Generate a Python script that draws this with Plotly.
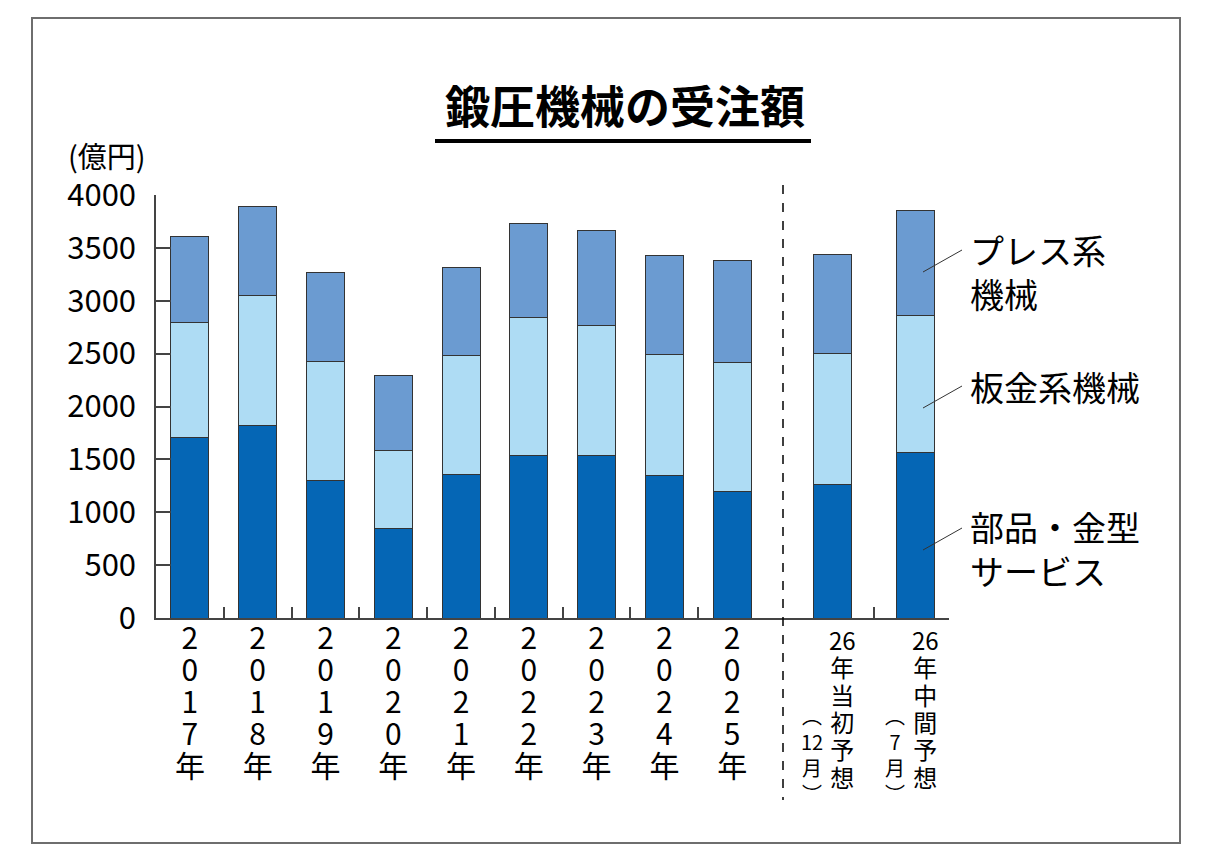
import plotly.graph_objects as go

title = "鍛圧機械の受注額"
unit = "(億円)"

years = ["2017年", "2018年", "2019年", "2020年", "2021年",
         "2022年", "2023年", "2024年", "2025年"]
forecasts = ["26年当初予想", "26年中間予想"]
forecast_months = ["12月", "7月"]

series_names = ["部品・金型<br>サービス", "板金系機械", "プレス系<br>機械"]
colors = ["#0566b5", "#aedcf4", "#6b9bd1"]

# 部品・金型サービス / 板金系機械 / プレス系機械 (億円)
parts_hist = [1710, 1817, 1300, 846, 1357, 1537, 1537, 1348, 1196]
sheet_hist = [1085, 1230, 1126, 738, 1126, 1306, 1230, 1145, 1221]
press_hist = [817, 849, 843, 706, 833, 885, 895, 933, 965]
parts_fc = [1262, 1561]
sheet_fc = [1236, 1297]
press_fc = [937, 991]

FONT = "Noto Sans CJK JP"
OFF = 8  # body margin of the html page
W, H = 1209 - 2 * OFF, 868 - 2 * OFF
# plot area in page pixels
X0, X1, Y0, Y1 = 156, 949, 195, 618
PW, PH = X1 - X0, Y1 - Y0


def px(x):
    return (x - X0) / PW


def py(y):
    return (Y1 - y) / PH


split = px(783)


def vlabel(text, size, join_digits):
    # one character per line (optionally keeping digit runs together)
    parts, buf = [], ""
    for c in text:
        if c.isdigit() and join_digits:
            buf += c
        else:
            if buf:
                parts.append(buf)
                buf = ""
            parts.append(c)
    if buf:
        parts.append(buf)
    return "<br>".join(f'<span style="font-size:{size}px">{p}</span>' for p in parts)


fig = go.Figure()
hist = [parts_hist, sheet_hist, press_hist]
fc = [parts_fc, sheet_fc, press_fc]
for name, col, vh, vf in zip(series_names, colors, hist, fc):
    fig.add_trace(go.Bar(x=years, y=vh, name=name, marker_color=col,
                         marker_line=dict(color="#333", width=1),
                         width=0.56, xaxis="x", yaxis="y"))
    fig.add_trace(go.Bar(x=forecasts, y=vf, name=name, marker_color=col,
                         marker_line=dict(color="#333", width=1),
                         width=0.46, xaxis="x2", yaxis="y"))
# empty traces so the tick-only overlay axes get drawn
fig.add_trace(go.Scatter(x=[], y=[], xaxis="x3", yaxis="y", hoverinfo="skip"))
fig.add_trace(go.Scatter(x=[], y=[], xaxis="x4", yaxis="y", hoverinfo="skip"))

fig.update_layout(
    width=W, height=H, barmode="stack", showlegend=False,
    plot_bgcolor="white", paper_bgcolor="white",
    margin=dict(l=X0 - OFF, r=W - (X1 - OFF), t=Y0 - OFF, b=H - (Y1 - OFF)),
    font=dict(family=FONT, color="black"),
    yaxis=dict(range=[0, 4000], tickvals=list(range(0, 4001, 500)),
               showgrid=False, zeroline=False, showline=True,
               linecolor="#444", linewidth=1.5, ticks="inside", ticklen=15,
               tickcolor="#444", tickwidth=1.5, ticklabelstandoff=12,
               tickfont=dict(size=31, color="black")),
    xaxis=dict(type="category", domain=[0, split], range=[-0.5, 8.75],
               anchor="y", showgrid=False, showline=True, linecolor="#444",
               linewidth=1.5, ticks="", tickangle=0,
               tickvals=years, ticktext=[vlabel(y, 30, False) for y in years],
               tickfont=dict(size=24.6, color="black")),
    xaxis2=dict(type="category", domain=[split, 1], range=[-0.6, 1.4],
                anchor="y", showgrid=False, showline=True, linecolor="#444",
                linewidth=1.5, ticks="", showticklabels=False),
    xaxis3=dict(overlaying="x", anchor="y", range=[-0.5, 8.75],
                tickvals=[i + 0.5 for i in range(8)], ticks="inside",
                ticklen=11, tickcolor="#444", tickwidth=1.5,
                showticklabels=False, showgrid=False, zeroline=False,
                showline=False),
    xaxis4=dict(overlaying="x2", anchor="y", range=[-0.6, 1.4],
                tickvals=[0.5, 1.4], ticks="inside",
                ticklen=11, tickcolor="#444", tickwidth=1.5,
                showticklabels=False, showgrid=False, zeroline=False,
                showline=False),
)

# forecast labels
for cat, month in zip(forecasts, forecast_months):
    fig.add_annotation(x=cat, y=0, xref="x2", yref="paper", yanchor="top",
                       xshift=10, yshift=-2, showarrow=False,
                       text=vlabel(cat, 24, True), font=dict(size=21))
    fig.add_annotation(x=cat, y=0, xref="x2", yref="paper", yanchor="top",
                       xshift=-21, yshift=-81, showarrow=False,
                       text="<br>".join(["︵", month[:-1], month[-1], "︶"]),
                       font=dict(size=20))

# title and unit
fig.add_annotation(x=px(625), y=py(104), xref="paper", yref="paper",
                   xanchor="center", yanchor="middle",
                   text=f"<b>{title}</b>", showarrow=False,
                   font=dict(size=45))
fig.add_annotation(x=px(107), y=py(155), xref="paper", yref="paper",
                   xanchor="center", yanchor="middle",
                   text=unit, showarrow=False, font=dict(size=29))

# series labels with leader lines
label_pos = [(548, 550), (386, 408), (271, 272)]
for name, (ty, ly) in zip(series_names, label_pos):
    fig.add_annotation(x=px(968), y=py(ty), xref="paper", yref="paper",
                       xanchor="left", yanchor="middle", align="left",
                       text=name, showarrow=False, font=dict(size=34))
    fig.add_shape(type="line", xref="paper", yref="paper",
                  x0=px(923), y0=py(ly), x1=px(962), y1=py(ly - 22),
                  line=dict(color="#333", width=1))

# dashed separator, title underline, frame
fig.add_shape(type="line", xref="paper", yref="paper", x0=split, x1=split,
              y0=py(185), y1=py(800), line=dict(color="black", width=1.5, dash="dash"))
fig.add_shape(type="line", xref="paper", yref="paper", x0=px(435), x1=px(811),
              y0=py(141), y1=py(141), line=dict(color="black", width=4))
fig.add_shape(type="rect", xref="paper", yref="paper", x0=px(32), x1=px(1180),
              y0=py(843), y1=py(18), line=dict(color="#6e6e6e", width=2))

fig.write_html("out.html")
